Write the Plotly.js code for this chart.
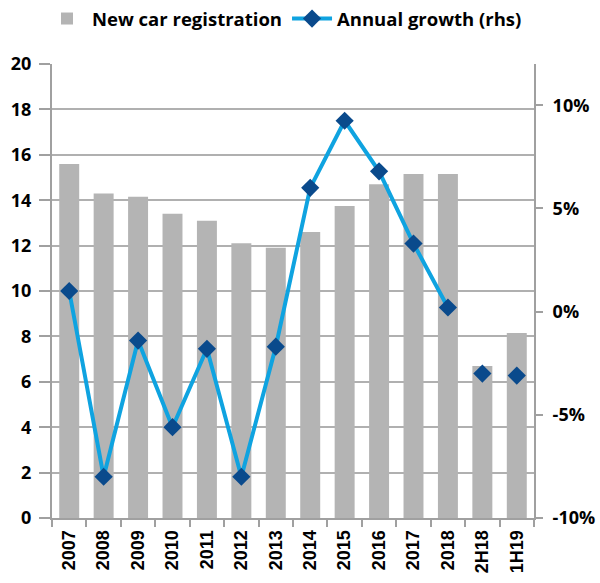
<!DOCTYPE html>
<html>
<head>
<meta charset="utf-8">
<script src="https://cdn.plot.ly/plotly-3.0.1.min.js"></script>
<style>html,body{margin:0;padding:0;background:#fff;}#chart{width:600px;height:583px;}</style>
</head>
<body>
<div id="chart"></div>
<script>
var categories = ["2007","2008","2009","2010","2011","2012","2013","2014","2015","2016","2017","2018","2H18","1H19"];
var registrations = [15.6,14.3,14.15,13.4,13.1,12.1,11.9,12.6,13.75,14.7,15.15,15.15,6.7,8.15];
var annualGrowth = [1.0,-8.0,-1.4,-5.6,-1.8,-8.0,-1.7,6.0,9.25,6.8,3.3,0.2,null,null];
var halfYearGrowth = [null,null,null,null,null,null,null,null,null,null,null,null,-3.0,-3.1];
var rightTickValues = [-10,-5,0,5,10];
var rightTickLabels = ["-10%","-5%","0%","5%","10%"];

function f(fam, size) { return {family: fam, size: size, color: "#000", weight: 700}; }
var yfont = f("Open Sans", 18);
var xfont = f("Liberation Sans", 18);
var traces = [
  {type: "bar", x: categories, y: registrations, name: "New car registration",
   marker: {color: "#b4b4b4"}, yaxis: "y"},
  {type: "scatter", mode: "lines+markers", x: categories, y: annualGrowth, name: "Annual growth (rhs)",
   line: {color: "#0fa3e0", width: 4}, marker: {symbol: "diamond", size: 14, color: "#0a4a8c"},
   yaxis: "y2", connectgaps: false},
  {type: "scatter", mode: "markers", x: categories, y: halfYearGrowth, name: "Annual growth (rhs)",
   marker: {symbol: "diamond", size: 14, color: "#0a4a8c"}, yaxis: "y2", showlegend: false}
];
var layout = {
  width: 600, height: 583,
  margin: {l: 52, r: 66, t: 64, b: 65},
  paper_bgcolor: "#fff", plot_bgcolor: "#fff",
  font: f("Open Sans", 18),
  bargap: 0.42,
  showlegend: true,
  legend: {orientation: "h", xref: "container", yref: "container", x: 0.07, xanchor: "left",
           y: 1.0, yanchor: "top", font: f("Open Sans", 18.5), itemwidth: 40, tracegroupgap: 0},
  xaxis: {type: "category", tickson: "boundaries", ticks: "outside", ticklen: 7, tickcolor: "#a0a0a0",
          tickwidth: 1.5, showline: true, linecolor: "#a0a0a0", linewidth: 2, tickangle: -90,
          showgrid: false, tickfont: xfont, range: [-0.5, 13.5], ticklabelstandoff: 3},
  yaxis: {range: [0, 20], dtick: 2, ticks: "outside", ticklen: 11, tickcolor: "#a0a0a0", tickwidth: 1.5,
          showline: true, linecolor: "#a0a0a0", linewidth: 2, gridcolor: "#b0b0b0", gridwidth: 1.5,
          zeroline: false, tickfont: yfont, ticklabelstandoff: 4},
  yaxis2: {overlaying: "y", side: "right", range: [-10, 12], tickmode: "array",
           tickvals: rightTickValues, ticktext: rightTickLabels,
           ticks: "outside", ticklen: 7, tickcolor: "#a0a0a0", tickwidth: 1.5, showline: true,
           linecolor: "#a0a0a0", linewidth: 2, showgrid: false, zeroline: false, tickfont: yfont,
           ticklabelstandoff: 6}
};
Plotly.newPlot("chart", traces, layout, {displayModeBar: false});
</script>
</body>
</html>
